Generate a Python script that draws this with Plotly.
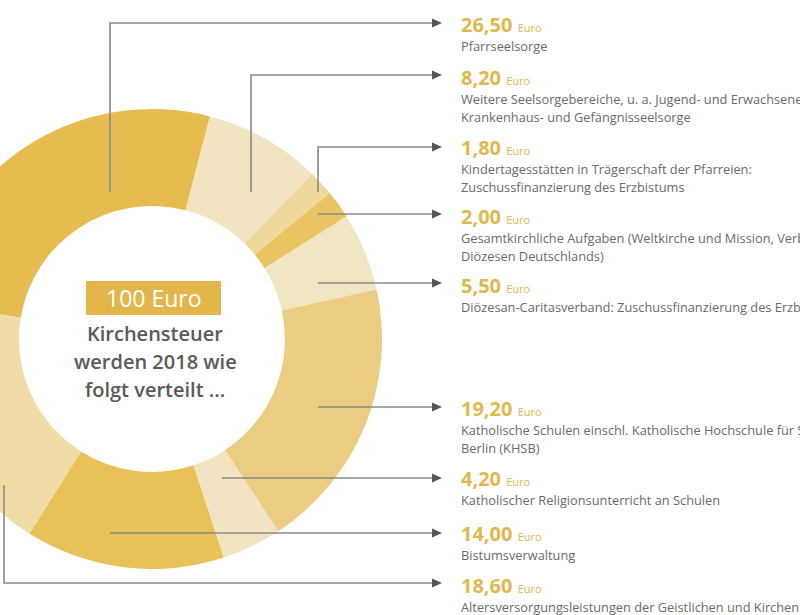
import plotly.graph_objects as go

# ---------------- data ----------------
labels = [
    "Pfarrseelsorge",
    "Weitere Seelsorgebereiche",
    "Kindertagesstätten",
    "Gesamtkirchliche Aufgaben",
    "Diözesan-Caritasverband",
    "Katholische Schulen",
    "Katholischer Religionsunterricht",
    "Bistumsverwaltung",
    "Altersversorgungsleistungen",
]
values = [26.5, 8.2, 1.8, 2.0, 5.5, 19.2, 4.2, 14.0, 18.6]
descriptions = [
    ["Pfarrseelsorge"],
    ["Weitere Seelsorgebereiche, u. a. Jugend- und Erwachsenenseelsorge,",
     "Krankenhaus- und Gefängnisseelsorge"],
    ["Kindertagesstätten in Trägerschaft der Pfarreien:",
     "Zuschussfinanzierung des Erzbistums"],
    ["Gesamtkirchliche Aufgaben (Weltkirche und Mission, Verband der",
     "Diözesen Deutschlands)"],
    ["Diözesan-Caritasverband: Zuschussfinanzierung des Erzbistums"],
    ["Katholische Schulen einschl. Katholische Hochschule für Sozialwesen",
     "Berlin (KHSB)"],
    ["Katholischer Religionsunterricht an Schulen"],
    ["Bistumsverwaltung"],
    ["Altersversorgungsleistungen der Geistlichen und Kirchenbeamten"],
]
center_title = "100 Euro"
center_lines = ["Kirchensteuer", "werden 2018 wie", "folgt verteilt ..."]

# ---------------- style / layout ----------------
colors = ["#E6BB50", "#F2E4C0", "#EFD89C", "#EAC462", "#F2E5C4",
          "#ECCC80", "#F2E4C2", "#E8C158", "#F0DCA7"]

W, H = 878, 615          # figure is wider; the view is shifted left (cropped donut)
SHIFT = 78

def X(px):
    return (px + SHIFT) / W

def Y(py):
    return 1 - py / H

# donut geometry (reference pixels)
cx, cy, R = 152, 339, 230

fig = go.Figure()
fig.add_trace(go.Pie(
    labels=labels,
    values=values,
    sort=False,
    direction="clockwise",
    rotation=-80.8,
    hole=0.578,
    textinfo="none",
    hoverinfo="label+value",
    marker=dict(colors=colors, line=dict(width=0)),
    domain=dict(x=[X(cx - R), X(cx + R)], y=[Y(cy + R), Y(cy - R)]),
    showlegend=False,
))

line_color = "#8A8A8A"
arrow_color = "#555555"
gold = "#E0B84E"
desc_color = "#6A6A6A"
FONT = "Open Sans"

# leader lines (reference pixel paths) and label rows
value_y = [24, 77, 147, 216, 285, 408, 478, 533, 585]
leader_paths = [
    [(110, 192), (110, 23), (432, 23)],
    [(251, 192), (251, 75), (432, 75)],
    [(318, 192), (318, 147), (432, 147)],
    [(318, 214), (432, 214)],
    [(318, 283), (432, 283)],
    [(318, 407), (432, 407)],
    [(222, 478), (432, 478)],
    [(110, 533), (432, 533)],
    [(4, 485), (4, 583), (432, 583)],
]

shapes = []
for pts in leader_paths:
    path = "M " + " L ".join(f"{X(x):.5f},{Y(y):.5f}" for x, y in pts)
    shapes.append(dict(type="path", path=path, xref="paper", yref="paper",
                       line=dict(color=line_color, width=1.6), layer="above"))
    ex, ey = pts[-1]
    tri = (f"M {X(ex):.5f},{Y(ey - 4.5):.5f} L {X(ex + 10):.5f},{Y(ey):.5f} "
           f"L {X(ex):.5f},{Y(ey + 4.5):.5f} Z")
    shapes.append(dict(type="path", path=tri, xref="paper", yref="paper",
                       fillcolor=arrow_color, line=dict(width=0), layer="above"))

# center box
shapes.append(dict(type="rect", xref="paper", yref="paper",
                   x0=X(86), x1=X(221), y0=Y(315), y1=Y(281),
                   fillcolor="#E3B64B", line=dict(width=0), layer="above"))

annotations = []
text_x = 459
for v, vy, desc in zip(values, value_y, descriptions):
    vs = f"{v:.2f}".replace(".", ",")
    annotations.append(dict(
        x=X(text_x), y=Y(vy), xref="paper", yref="paper",
        xanchor="left", yanchor="middle", showarrow=False,
        text=f"<b>{vs}</b> <span style='font-size:11px'>Euro</span>",
        font=dict(family=FONT, size=20, color=gold),
    ))
    for i, line in enumerate(desc):
        annotations.append(dict(
            x=X(text_x), y=Y(vy + 22 + 18 * i), xref="paper", yref="paper",
            xanchor="left", yanchor="middle", showarrow=False,
            text=line,
            font=dict(family=FONT, size=12.8, color=desc_color),
        ))

annotations.append(dict(
    x=X(153.5), y=Y(298), xref="paper", yref="paper",
    xanchor="center", yanchor="middle", showarrow=False,
    text=center_title, font=dict(family=FONT, size=23, color="white"),
))
for i, line in enumerate(center_lines):
    annotations.append(dict(
        x=X(155), y=Y(333 + 28 * i), xref="paper", yref="paper",
        xanchor="center", yanchor="middle", showarrow=False,
        text=line, font=dict(family=FONT, size=20, color="#5A5A5A", weight=600),
    ))

fig.update_layout(
    width=W, height=H,
    margin=dict(l=0, r=0, t=0, b=0),
    paper_bgcolor="white", plot_bgcolor="white",
    shapes=shapes, annotations=annotations,
    font=dict(family=FONT),
)

post = ("var d=document.getElementById('{plot_id}');"
        "d.style.marginLeft='-%dpx';"
        "document.body.style.margin='0';"
        "document.body.style.overflow='hidden';" % SHIFT)
fig.write_html("out.html", post_script=post, config={"displayModeBar": False})
